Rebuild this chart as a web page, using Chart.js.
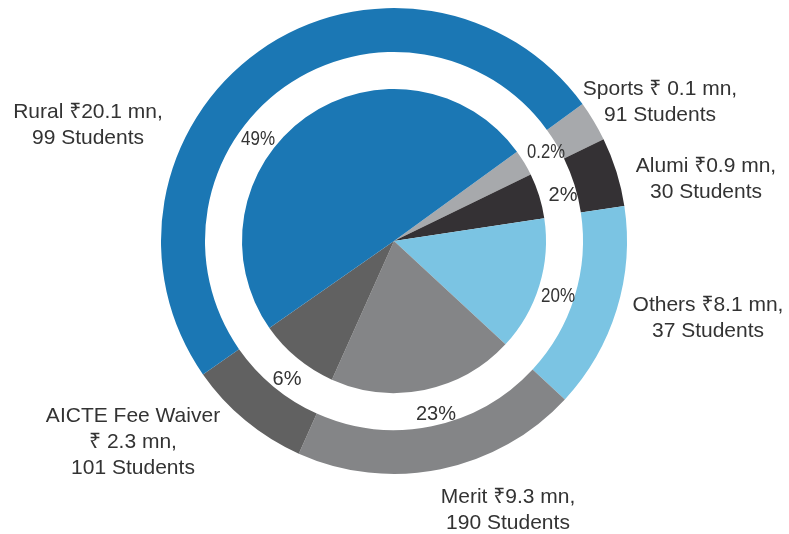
<!DOCTYPE html>
<html>
<head>
<meta charset="utf-8">
<script src="https://cdn.jsdelivr.net/npm/chart.js@4"></script>
<style>
  html, body { margin: 0; padding: 0; background: #ffffff; }
  #wrap { width: 789px; height: 534px; }
</style>
</head>
<body>
<div id="wrap"><canvas id="chart" width="789" height="534"></canvas></div>
<script>
// categories in drawing order, clockwise from the Sports slice
const categories = ['Sports', 'Alumi', 'Others', 'Merit', 'AICTE Fee Waiver', 'Rural'];
// amount in ₹ mn and number of students, as printed
const amounts = ['0.1', '0.9', '8.1', '9.3', '2.3', '20.1'];
const students = [91, 30, 37, 190, 101, 99];
// percentage printed beside each inner slice
const percentLabels = ['0.2%', '2%', '20%', '23%', '6%', '49%'];
// share of the circle each slice takes in the picture (%)
const sliceShares = [2.8, 4.8, 14.3, 19.8, 8.6, 49.7];
const sliceColors = ['#a7a9ac', '#343134', '#7bc4e3', '#848587', '#616161', '#1b77b4'];

// outer caption lines per category
const captionLines = [
  ['Sports \u20B9 ' + amounts[0] + ' mn,', students[0] + ' Students'],
  ['Alumi \u20B9' + amounts[1] + ' mn,', students[1] + ' Students'],
  ['Others \u20B9' + amounts[2] + ' mn,', students[2] + ' Students'],
  ['Merit \u20B9' + amounts[3] + ' mn,', students[3] + ' Students'],
  ['AICTE Fee Waiver', '\u20B9 ' + amounts[4] + ' mn,', students[4] + ' Students'],
  ['Rural \u20B9' + amounts[5] + ' mn,', students[5] + ' Students'],
];

// label placement, offsets from the pie centre (px)
const captionPos = [
  { dx: 266, dy: -146 },
  { dx: 312, dy: -69 },
  { dx: 314, dy: 70 },
  { dx: 114, dy: 262 },
  { dx: -261, dy: 181 },
  { dx: -306, dy: -123 },
];
const percentPos = [
  { dx: 152, dy: -83, sx: 0.83 },
  { dx: 169, dy: -40, sx: 1 },
  { dx: 164, dy: 61, sx: 0.85 },
  { dx: 42, dy: 179, sx: 1 },
  { dx: -107, dy: 144, sx: 1 },
  { dx: -136, dy: -96, sx: 0.85 },
];

const FONT = '"Liberation Sans", Arial, "Noto Sans", "DejaVu Sans", sans-serif';
const TEXT_COLOR = '#333333';

const labelPlugin = {
  id: 'sliceLabels',
  afterDraw(chart) {
    const ctx = chart.ctx;
    const arc = chart.getDatasetMeta(0).data[0];
    const cx = arc.x, cy = arc.y;
    ctx.save();
    ctx.fillStyle = TEXT_COLOR;
    ctx.textAlign = 'center';
    ctx.textBaseline = 'alphabetic';

    ctx.font = '21px ' + FONT;
    captionLines.forEach((lines, i) => {
      lines.forEach((line, j) => {
        ctx.fillText(line, cx + captionPos[i].dx, cy + captionPos[i].dy + j * 26);
      });
    });

    percentLabels.forEach((txt, i) => {
      const p = percentPos[i];
      ctx.save();
      ctx.translate(cx + p.dx, cy + p.dy);
      ctx.scale(p.sx, 1);
      ctx.font = '20px ' + FONT;
      ctx.fillText(txt, 0, 0);
      ctx.restore();
    });
    ctx.restore();
  }
};

const ctx = document.getElementById('chart').getContext('2d');
new Chart(ctx, {
  type: 'doughnut',
  data: {
    labels: categories,
    datasets: [
      // outer ring
      { data: sliceShares, backgroundColor: sliceColors, borderWidth: 0, weight: 44 },
      // white gap between ring and pie
      { data: sliceShares, backgroundColor: 'rgba(0,0,0,0)', borderWidth: 0, weight: 37 },
      // inner pie
      { data: sliceShares, backgroundColor: sliceColors, borderWidth: 0, weight: 152 },
    ],
  },
  options: {
    responsive: false,
    animation: false,
    cutout: 0,
    rotation: 54,
    hoverOffset: 0,
    layout: { padding: { left: 161, right: 162, top: 8, bottom: 60 } },
    plugins: {
      legend: { display: false },
      tooltip: { enabled: false },
    },
  },
  plugins: [labelPlugin],
});
</script>
</body>
</html>
